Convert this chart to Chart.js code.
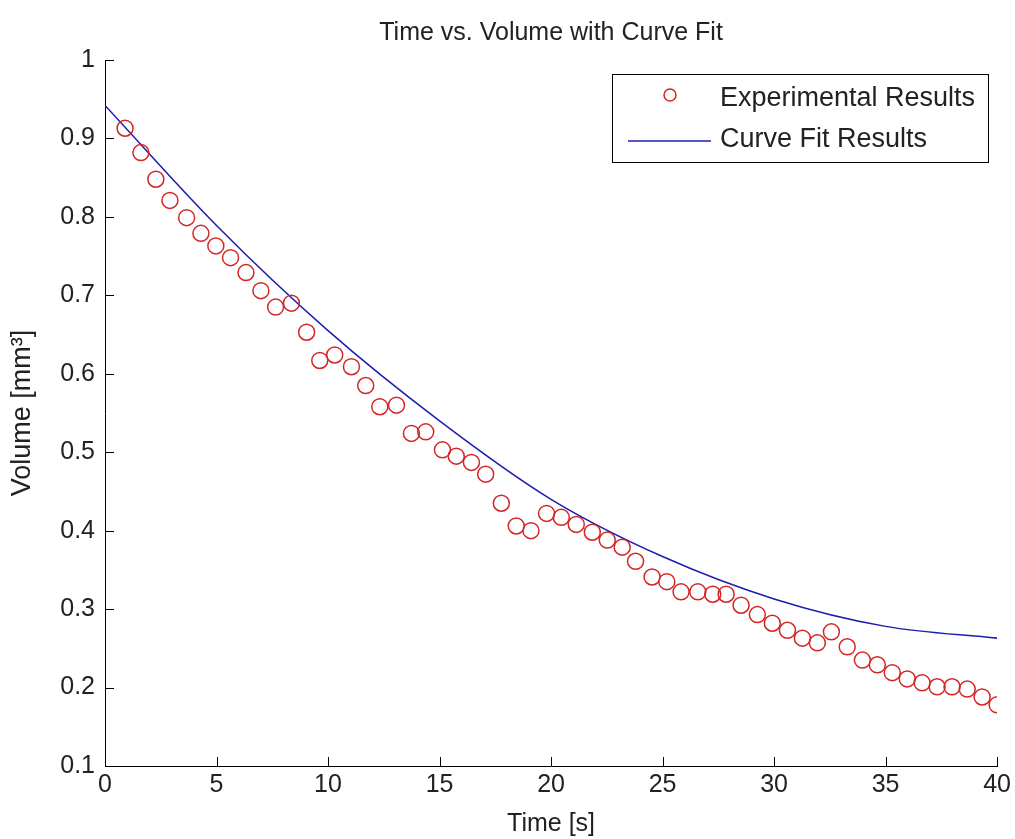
<!DOCTYPE html>
<html>
<head>
<meta charset="utf-8">
<script src="https://cdn.jsdelivr.net/npm/chart.js@4.4.1/dist/chart.umd.min.js"></script>
<style>
  body { margin: 0; background: #fff; }
  canvas { display: block; }
</style>
</head>
<body>
<canvas id="canvas" width="1015" height="839"></canvas>
<script>
var timeS = [0.90, 1.61, 2.28, 2.91, 3.66, 4.30, 4.97, 5.63, 6.32, 6.99,
  7.65, 8.36, 9.04, 9.63, 10.30, 11.05, 11.69, 12.32, 13.07, 13.74,
  14.38, 15.13, 15.75, 16.43, 17.07, 17.77, 18.44, 19.10, 19.80, 20.46,
  21.13, 21.85, 22.52, 23.19, 23.79, 24.53, 25.19, 25.83, 26.58, 27.25,
  27.85, 28.52, 29.25, 29.92, 30.60, 31.27, 31.94, 32.57, 33.28, 33.96,
  34.63, 35.30, 35.97, 36.64, 37.31, 37.98, 38.66, 39.33, 40.00];
var volume = [0.913, 0.882, 0.848, 0.821, 0.799, 0.779, 0.763, 0.748, 0.729, 0.706,
  0.685, 0.690, 0.653, 0.617, 0.624, 0.609, 0.585, 0.558, 0.560, 0.524,
  0.526, 0.503, 0.495, 0.487, 0.472, 0.435, 0.406, 0.400, 0.422, 0.417,
  0.408, 0.398, 0.388, 0.379, 0.361, 0.341, 0.335, 0.322, 0.322, 0.319,
  0.319, 0.305, 0.293, 0.282, 0.273, 0.263, 0.257, 0.271, 0.252, 0.235,
  0.229, 0.219, 0.211, 0.206, 0.201, 0.201, 0.198, 0.188, 0.178];

// fitted curve, read at a few times
var fitTime = [0, 5, 10, 15, 20, 25, 30, 35, 40];
var fitVolume = [0.942, 0.789, 0.655, 0.540, 0.440, 0.367, 0.313, 0.278, 0.263];

var xTicks = [0, 5, 10, 15, 20, 25, 30, 35, 40];
var yTicks = [0.1, 0.2, 0.3, 0.4, 0.5, 0.6, 0.7, 0.8, 0.9, 1];
var seriesNames = ["Experimental Results", "Curve Fit Results"];

var red = "#d42626";
var blue = "#1c1cb0";
var fontName = "'Liberation Sans', Arial, sans-serif";

function toPoints(xs, ys) {
  return xs.map(function (x, i) { return { x: x, y: ys[i] }; });
}

// matlab style inward ticks
var inwardTicks = {
  id: "inwardTicks",
  afterDatasetsDraw: function (chart) {
    var ctx = chart.ctx, a = chart.chartArea;
    var sx = chart.scales.x, sy = chart.scales.y;
    ctx.save();
    ctx.strokeStyle = "#000";
    ctx.lineWidth = 1;
    ctx.beginPath();
    xTicks.forEach(function (v) {
      var px = Math.round(sx.getPixelForValue(v)) + 0.5;
      ctx.moveTo(px, a.bottom);
      ctx.lineTo(px, a.bottom - 9);
    });
    yTicks.forEach(function (v) {
      var py = Math.round(sy.getPixelForValue(v)) + 0.5;
      ctx.moveTo(a.left, py);
      ctx.lineTo(a.left + 9, py);
    });
    ctx.stroke();
    ctx.restore();
  }
};

// boxed legend in the upper right
var boxLegend = {
  id: "boxLegend",
  afterDraw: function (chart) {
    var ctx = chart.ctx;
    var x0 = 612, y0 = 74, w = 376, h = 88;
    ctx.save();
    ctx.fillStyle = "#fff";
    ctx.fillRect(x0, y0, w, h);
    ctx.strokeStyle = "#000";
    ctx.lineWidth = 1;
    ctx.strokeRect(x0 + 0.5, y0 + 0.5, w, h);

    ctx.strokeStyle = red;
    ctx.lineWidth = 1.5;
    ctx.beginPath();
    ctx.arc(670, 95, 6, 0, Math.PI * 2);
    ctx.stroke();

    ctx.strokeStyle = blue;
    ctx.beginPath();
    ctx.moveTo(628, 141);
    ctx.lineTo(711, 141);
    ctx.stroke();

    ctx.fillStyle = "#222";
    ctx.font = "27px " + fontName;
    ctx.textBaseline = "middle";
    ctx.fillText(seriesNames[0], 720, 99);
    ctx.fillText(seriesNames[1], 720, 140);
    ctx.restore();
  }
};

window.onload = function () {
  var ctx = document.getElementById("canvas").getContext("2d");
  new Chart(ctx, {
    type: "scatter",
    data: {
      datasets: [
        {
          label: seriesNames[0],
          data: toPoints(timeS, volume),
          pointStyle: "circle",
          pointRadius: 8,
          borderColor: red,
          borderWidth: 1.5,
          backgroundColor: "rgba(0,0,0,0)",
          showLine: false
        },
        {
          label: seriesNames[1],
          data: toPoints(fitTime, fitVolume),
          showLine: true,
          borderColor: blue,
          borderWidth: 1.5,
          pointRadius: 0,
          cubicInterpolationMode: "monotone",
          fill: false
        }
      ]
    },
    options: {
      responsive: false,
      animation: false,
      layout: { padding: { left: 0, right: 17, top: 0, bottom: 0 } },
      plugins: {
        legend: { display: false },
        tooltip: { enabled: false },
        title: {
          display: true,
          fullSize: false,
          text: "Time vs. Volume with Curve Fit",
          color: "#222",
          font: { family: fontName, size: 25, weight: "normal" },
          padding: { top: 18, bottom: 12 }
        }
      },
      scales: {
        x: {
          type: "linear",
          min: 0,
          max: 40,
          afterBuildTicks: function (s) { s.ticks = xTicks.map(function (v) { return { value: v }; }); },
          afterFit: function (s) { s.height = 73; },
          grid: { display: false, drawTicks: false, tickLength: 0 },
          border: { display: true, color: "#000", width: 1 },
          ticks: { color: "#222", padding: 4, font: { family: fontName, size: 25 } },
          title: {
            display: true,
            text: "Time [s]",
            color: "#222",
            font: { family: fontName, size: 25 },
            padding: { top: 0, bottom: 0 }
          }
        },
        y: {
          type: "linear",
          min: 0.1,
          max: 1,
          afterBuildTicks: function (s) { s.ticks = yTicks.map(function (v) { return { value: v }; }); },
          afterFit: function (s) { s.width = 105; },
          grid: { display: false, drawTicks: false, tickLength: 0 },
          border: { display: true, color: "#000", width: 1 },
          ticks: {
            color: "#222",
            padding: 10,
            font: { family: fontName, size: 25 },
            callback: function (v) { return String(Math.round(v * 10) / 10); }
          },
          title: {
            display: true,
            text: "Volume [mm³]",
            color: "#222",
            font: { family: fontName, size: 27 },
            padding: { top: 6, bottom: 0 }
          }
        }
      }
    },
    plugins: [inwardTicks, boxLegend]
  });
};
</script>
</body>
</html>
